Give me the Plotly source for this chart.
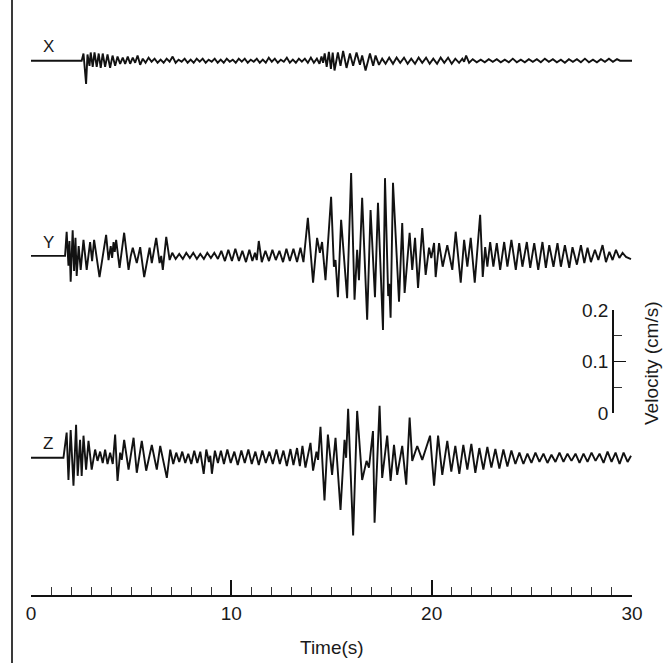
import plotly.graph_objects as go

# ---------------- data (time in s, velocity in cm/s relative to each trace's zero line) -------------
X_T = [0.00, 2.53, 2.62, 2.75, 2.82, 2.92, 2.98, 3.08, 3.17, 3.28, 3.38, 3.48, 3.58, 3.70, 3.82, 3.95, 4.07, 4.20, 4.32, 4.45,
       4.58, 4.70, 4.83, 4.95, 5.08, 5.20, 5.32, 5.45, 5.58,
       5.72, 5.87, 6.02, 6.17, 6.32, 6.47, 6.62, 6.77, 6.92, 7.07, 7.22, 7.37, 7.52, 7.67, 7.82, 7.97, 8.12, 8.27, 8.42, 8.57,
       8.72, 8.87, 9.02, 9.17, 9.32, 9.47, 9.62, 9.77, 9.92, 10.07, 10.22, 10.37, 10.52, 10.67, 10.82, 10.97, 11.12, 11.27, 11.42, 11.57,
       11.72, 11.87, 12.02, 12.17, 12.32, 12.47, 12.62, 12.77, 12.92, 13.07, 13.22, 13.37, 13.52, 13.67, 13.82, 13.97, 14.12, 14.27, 14.40,
       14.50, 14.58, 14.66, 14.76, 14.87, 14.97, 15.06, 15.15, 15.32, 15.45, 15.58, 15.75, 15.92, 16.08, 16.25, 16.42, 16.53, 16.70,
       16.92, 17.08, 17.20, 17.37, 17.53, 17.70,
       17.88, 18.07, 18.25, 18.43, 18.62, 18.80, 18.98, 19.17, 19.35, 19.53, 19.72, 19.90, 20.08, 20.27, 20.45, 20.63, 20.82, 21.00,
       21.18, 21.37, 21.53, 21.62, 21.72, 21.87,
       22.05, 22.25, 22.45, 22.65, 22.85, 23.05, 23.25, 23.45, 23.65, 23.85, 24.05, 24.25, 24.45, 24.65, 24.85, 25.05, 25.25, 25.45,
       25.65, 25.85, 26.05, 26.25, 26.45, 26.65, 26.85, 27.05, 27.25, 27.45, 27.65, 27.85, 28.05, 28.25, 28.45, 28.65, 28.85, 29.05,
       29.25, 29.40, 30.00]
X_V = [0, 0, 0.014, -0.045, 0.012, -0.010, 0.016, -0.012, 0.016, -0.012, 0.014, -0.014, 0.014, -0.012, 0.012, -0.014, 0.010, -0.010,
       0.008, -0.006, 0.006, -0.006, 0.008, -0.006, 0.006, -0.004, 0.010, -0.008, 0.004,
       -0.004, 0.006, -0.002, 0.004, -0.004, 0.002, -0.004, 0.004, -0.002, 0.008, -0.004, 0.002, -0.002, 0.004, -0.004, 0.002, -0.004,
       0.004, -0.002, 0.004, -0.004, 0.002, -0.002, 0.004, -0.004, 0.002, -0.004, 0.004, -0.002, 0.002, -0.004, 0.004, -0.002, 0.004,
       -0.004, 0.002, -0.002, 0.004, -0.004, 0.002, -0.004, 0.006, -0.002, 0.004, -0.004, 0.002, -0.002, 0.006, -0.004, 0.002, -0.004,
       0.004, -0.002, 0.004, -0.004, 0.006, -0.004, 0.004, -0.006,
       0.008, -0.004, 0.014, -0.012, 0.017, -0.016, 0.016, -0.019, 0.016, -0.010, 0.019, -0.014, 0.014, -0.010, 0.016, -0.008, 0.010,
       -0.019, 0.014, -0.010, 0.010, -0.008, 0.004, -0.006,
       0.006, -0.006, 0.006, -0.004, 0.006, -0.006, 0.004, -0.006, 0.006, -0.004, 0.006, -0.006, 0.004, -0.006, 0.006, -0.004, 0.006,
       -0.006, 0.004, -0.004, 0.004, -0.002, 0.010, -0.004,
       0.003, -0.003, 0.002, -0.003, 0.003, -0.002, 0.003, -0.003, 0.002, -0.003, 0.004, -0.003, 0.002, -0.003, 0.003, -0.002, 0.003,
       -0.003, 0.004, -0.002, 0.003, -0.003, 0.002, -0.004, 0.003, -0.002, 0.003, -0.003, 0.004, -0.003, 0.002, -0.003, 0.003, -0.002,
       0.004, -0.002, 0.003, 0, 0]

Y_T = [0.00, 1.70, 1.78, 1.87, 1.92, 1.98, 2.08, 2.15, 2.22, 2.28, 2.38, 2.48, 2.62, 2.78, 2.95, 3.05, 3.15, 3.42, 3.75, 3.87,
       3.98, 4.05, 4.12, 4.18, 4.25, 4.42, 4.65, 4.87, 4.98, 5.08, 5.28, 5.45, 5.65, 5.92, 6.03, 6.25, 6.42, 6.50, 6.58, 6.75, 6.92,
       7.05, 7.22, 7.40, 7.58, 7.75, 7.93, 8.10, 8.28, 8.45, 8.63, 8.80, 8.98, 9.15, 9.33, 9.50, 9.68, 9.85, 10.03, 10.20, 10.38,
       10.55, 10.73, 10.90, 11.05, 11.18, 11.27, 11.37, 11.52, 11.70, 11.88, 12.05, 12.22, 12.40, 12.58, 12.75, 12.92, 13.10, 13.28,
       13.45, 13.60,
       13.82, 14.08, 14.28, 14.42, 14.53, 14.70, 14.98, 15.12, 15.20, 15.32, 15.48, 15.78, 15.98, 16.15, 16.28, 16.37, 16.53, 16.78,
       16.95, 17.17, 17.32, 17.57, 17.67, 17.83, 17.88, 17.95, 18.07, 18.37, 18.53, 18.65, 18.90, 19.03, 19.17, 19.32, 19.53, 19.70,
       19.87, 19.98, 20.12, 20.20, 20.37, 20.55, 20.78,
       21.03, 21.20, 21.45, 21.62, 21.78, 21.95, 22.15, 22.42, 22.55, 22.67, 22.78, 22.92, 23.08, 23.25, 23.42, 23.62, 23.78, 23.98,
       24.20, 24.37, 24.53, 24.75, 24.92, 25.12, 25.32, 25.53, 25.70, 25.87, 26.08, 26.28, 26.45, 26.65, 26.87, 27.03, 27.25, 27.45,
       27.62, 27.78, 27.95, 28.15, 28.32, 28.53, 28.70, 28.87, 29.03, 29.20, 29.37, 29.53, 29.70, 29.95]
Y_V = [0, 0, 0.047, -0.019, 0.029, -0.050, 0.050, -0.029, 0.035, -0.039, 0.019, -0.027, 0.031, -0.027, 0.027, -0.010, 0.031,
       -0.041, 0.041, -0.008, 0.019, -0.004, 0.027, 0.008, 0.031, -0.023, 0.045, -0.027, 0.000, 0.016, -0.014, 0.017, -0.041, 0.016,
       -0.014, 0.035, -0.014, 0.000, -0.027, 0.037, -0.008,
       0.006, -0.006, 0.004, -0.006, 0.006, -0.004, 0.006, -0.006, 0.004, -0.006, 0.006, -0.004, 0.006, -0.006, 0.010, -0.010, 0.012,
       -0.010, 0.014, -0.010, 0.010, -0.012, 0.012, -0.010, 0.006, -0.008, 0.029, -0.012, 0.010, -0.010, 0.012, -0.008, 0.010, -0.012,
       0.014, -0.010, 0.014, -0.012, 0.016, -0.012,
       0.074, -0.052, 0.035, 0.006, 0.027, -0.047, 0.115, -0.021, -0.008, -0.080, 0.070, -0.082, 0.161, -0.085, 0.012, -0.047, 0.113,
       -0.124, 0.089, -0.080, 0.103, -0.144, 0.151, -0.078, -0.054, -0.120, 0.142, -0.089, 0.064, -0.072, 0.045, -0.027, 0.035, -0.062,
       0.054, -0.037, 0.016, -0.004, 0.025, -0.041, 0.025, -0.021, 0.021,
       -0.027, 0.047, -0.052, 0.031, -0.021, 0.035, -0.052, 0.080, -0.041, 0.017, -0.021, 0.027, -0.021, 0.025, -0.027, 0.027, -0.021,
       0.031, -0.027, 0.025, -0.021, 0.027, -0.023, 0.025, -0.027, 0.027, -0.023, 0.021, -0.021, 0.025, -0.021, 0.021, -0.023, 0.017,
       -0.017, 0.021, -0.014, 0.016, -0.012, 0.012, -0.008, 0.021, -0.012, 0.008, -0.008, 0.012, -0.004, 0.006, -0.002, -0.006]

Z_T = [0.00, 1.62, 1.78, 1.87, 1.98, 2.12, 2.25, 2.33, 2.45, 2.53, 2.62, 2.75, 2.87, 3.03, 3.20, 3.32, 3.45, 3.58, 3.70, 3.82,
       3.95, 4.08, 4.20, 4.32, 4.45, 4.53, 4.65, 4.87, 5.12, 5.28, 5.53, 5.75, 6.03, 6.28, 6.45, 6.78, 6.95,
       7.10, 7.25, 7.40, 7.55, 7.70, 7.85, 8.00, 8.15, 8.30, 8.45, 8.62, 8.75, 8.88, 8.95, 9.03, 9.18, 9.33, 9.48, 9.63, 9.80,
       9.97, 10.15, 10.32, 10.50, 10.67, 10.85, 11.02, 11.20, 11.37, 11.55, 11.72, 11.90, 12.07, 12.25, 12.42, 12.60, 12.77, 12.95,
       13.10, 13.28, 13.42, 13.55, 13.70,
       13.95, 14.08, 14.25, 14.33, 14.45, 14.65, 14.82, 15.03, 15.20, 15.45, 15.65, 15.73, 15.83, 16.08, 16.28, 16.53, 16.75, 16.87,
       17.07, 17.15, 17.40, 17.53, 17.78, 17.95, 18.12, 18.28, 18.53, 18.73, 18.90, 19.03, 19.28, 19.53, 19.92, 20.12, 20.32, 20.53,
       20.78,
       20.98, 21.18, 21.38, 21.58, 21.78, 21.98, 22.18, 22.38, 22.58, 22.78, 22.98, 23.18, 23.38, 23.58, 23.78, 23.98, 24.18, 24.38,
       24.58, 24.78, 24.98, 25.18, 25.38, 25.58, 25.78, 25.98, 26.18, 26.38, 26.58, 26.78, 26.98, 27.18, 27.38, 27.58, 27.78, 27.98,
       28.18, 28.38, 28.58, 28.78, 28.98, 29.18, 29.38, 29.58, 29.78, 29.95]
Z_V = [0, 0, 0.049, -0.043, 0.054, -0.054, 0.064, -0.035, 0.035, -0.035, 0.043, -0.023, 0.033, -0.023, 0.016, -0.006, 0.012,
       -0.010, 0.016, -0.012, 0.010, -0.012, 0.045, -0.045, 0.010, -0.004, 0.035, -0.023, 0.039, -0.029, 0.033, -0.025, 0.025, -0.023,
       0.023, -0.039, 0.016,
       -0.012, 0.010, -0.008, 0.012, -0.010, 0.008, -0.012, 0.014, -0.010, 0.012, -0.031, 0.016, -0.008, 0.004, -0.031, 0.014, -0.010,
       0.014, -0.012, 0.016, -0.010, 0.012, -0.014, 0.014, -0.010, 0.016, -0.012, 0.012, -0.014, 0.014, -0.010, 0.012, -0.012, 0.016,
       -0.012, 0.014, -0.016, 0.017, -0.014, 0.019, -0.016, 0.023, -0.019,
       0.029, -0.025, 0.012, -0.004, 0.060, -0.083, 0.045, -0.033, 0.039, -0.101, 0.035, 0.000, 0.095, -0.151, 0.091, -0.043, -0.006,
       -0.019, 0.052, -0.126, 0.101, -0.039, 0.043, -0.045, 0.025, -0.033, 0.023, -0.052, 0.078, -0.006, 0.023, -0.004, 0.043, -0.054,
       0.043, -0.033, 0.033,
       -0.027, 0.023, -0.031, 0.025, -0.023, 0.027, -0.029, 0.019, -0.023, 0.021, -0.019, 0.017, -0.021, 0.016, -0.017, 0.014, -0.012,
       0.010, -0.012, 0.008, -0.010, 0.010, -0.008, 0.008, -0.010, 0.006, -0.008, 0.010, -0.008, 0.008, -0.006, 0.008, -0.010, 0.008,
       -0.008, 0.010, -0.006, 0.008, -0.010, 0.012, -0.008, 0.010, -0.012, 0.010, -0.008, 0.004]

COMPONENTS = ["X", "Y", "Z"]
TIME_TICKS = [0, 10, 20, 30]
SCALE_TICKS = [0, 0.1, 0.2]
SCALE_LABELS = ["0", "0.1", "0.2"]

for t, v in ((X_T, X_V), (Y_T, Y_V), (Z_T, Z_V)):
    assert len(t) == len(v), (len(t), len(v))

# ---------------- layout constants -------------
W, H = 670, 663
OFFSET = {"X": 0.684, "Y": 0.305, "Z": -0.087}   # vertical placement of each trace (cm/s units)
FONT = "Liberation Sans, Arial, Helvetica, sans-serif"
INK = "#121212"

fig = go.Figure()
for name, t, v in (("X", X_T, X_V), ("Y", Y_T, Y_V), ("Z", Z_T, Z_V)):
    fig.add_trace(go.Scatter(
        x=t, y=[val + OFFSET[name] for val in v], mode="lines",
        line=dict(color=INK, width=1.9), hoverinfo="skip", showlegend=False))

# invisible trace so the velocity scale-bar axis is drawn
fig.add_trace(go.Scatter(x=[0], y=[0], xaxis="x", yaxis="y2", mode="markers",
                         marker=dict(opacity=0), hoverinfo="skip", showlegend=False))

fig.update_layout(
    template="none",
    width=W, height=H,
    margin=dict(l=0, r=0, t=0, b=0),
    paper_bgcolor="white", plot_bgcolor="rgba(0,0,0,0)",
    font=dict(family=FONT, color="#1a1a1a", size=19),
    xaxis=dict(
        domain=[31 / W, 632 / W], range=[0, 30], anchor="free", position=(H - 596) / H,
        showline=True, linecolor=INK, linewidth=1.5, mirror=False,
        ticks="inside", ticklen=15, tickwidth=1.5, tickcolor=INK,
        tickmode="array", tickvals=TIME_TICKS, ticktext=[str(v) for v in TIME_TICKS],
        tickfont=dict(family=FONT, size=19, color="#1a1a1a"),
        minor=dict(dtick=1, tick0=0, ticks="inside", ticklen=8, tickwidth=1.2, tickcolor="#333", showgrid=False),
        showgrid=False, zeroline=False, automargin=False, fixedrange=True,
    ),
    yaxis=dict(domain=[0, 1], range=[-0.4854, 0.8019], visible=False, fixedrange=True, automargin=False),
    yaxis2=dict(
        domain=[(H - 413) / H, (H - 310) / H], range=[0, 0.2], anchor="free", position=613 / W, side="left",
        showline=True, linecolor=INK, linewidth=1.5,
        ticks="inside", ticklen=12, tickwidth=1.3, tickcolor=INK,
        tickmode="array", tickvals=SCALE_TICKS, ticktext=SCALE_LABELS,
        tickfont=dict(family=FONT, size=19, color="#1a1a1a"),
        minor=dict(dtick=0.05, tick0=0, ticks="inside", ticklen=8, tickwidth=1.2, tickcolor="#333", showgrid=False),
        showgrid=False, zeroline=False, automargin=False, fixedrange=True,
    ),
    shapes=[dict(type="line", xref="paper", yref="paper", x0=12 / W, x1=12 / W, y0=0, y1=1,
                 line=dict(color="#3a3a3a", width=2))],
)

annotations = []
for name in COMPONENTS:
    annotations.append(dict(x=0.85, y=OFFSET[name] + 0.027, xref="x", yref="y", text=name, showarrow=False,
                            font=dict(family=FONT, size=17, color="#1a1a1a"), xanchor="center", yanchor="middle"))
annotations.append(dict(x=15, y=(H - 647) / H, xref="x", yref="paper", text="Time(s)", showarrow=False,
                        font=dict(family=FONT, size=19, color="#1a1a1a"), xanchor="center", yanchor="middle"))
annotations.append(dict(x=651 / W, y=(H - 363) / H, xref="paper", yref="paper", text="Velocity (cm/s)",
                        textangle=-90, showarrow=False, font=dict(family=FONT, size=19, color="#1a1a1a"),
                        xanchor="center", yanchor="middle"))
fig.update_layout(annotations=annotations)

fig.write_html("out.html", config={"displayModeBar": False},
               post_script="document.body.style.margin='0';document.body.style.overflow='hidden';"
                           "document.documentElement.style.overflow='hidden';")
